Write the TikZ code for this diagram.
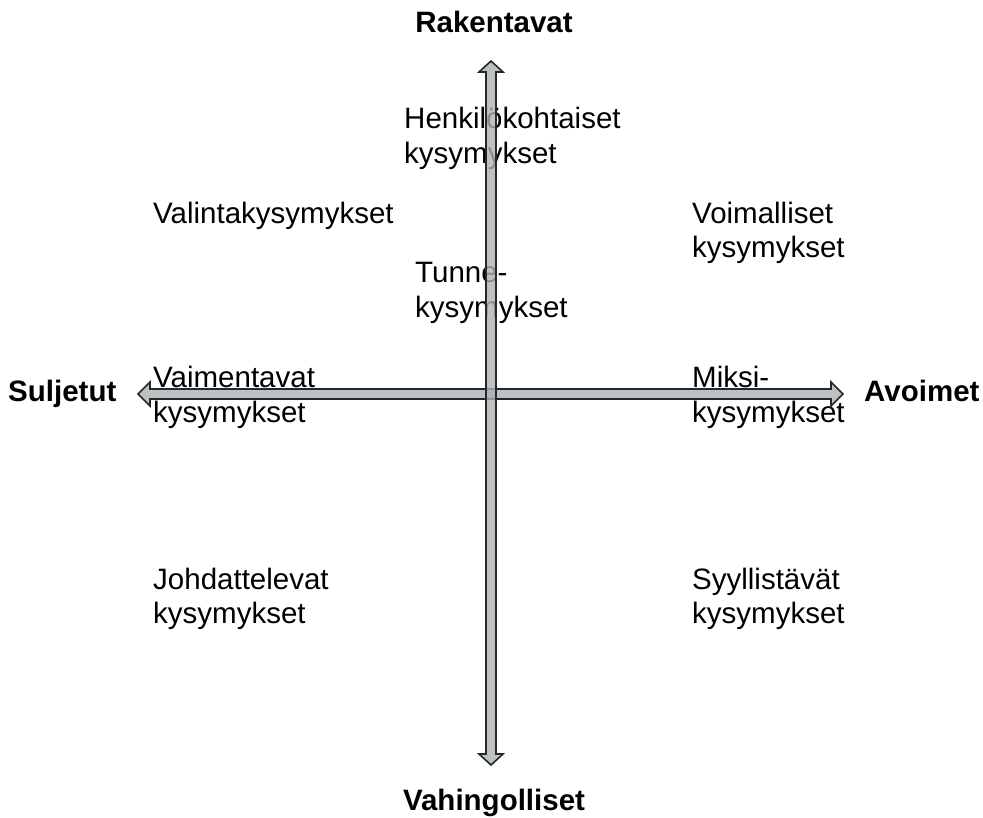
\documentclass[tikz,border=0pt]{standalone}
\usepackage{fontspec}
\setmainfont{Liberation Sans}
\definecolor{arrowfill}{HTML}{B0B0B0}
\definecolor{arrowline}{HTML}{1E2A30}
\begin{document}
\begin{tikzpicture}[x=1pt,y=-1pt,
  lbl/.style={anchor=base west,inner sep=0pt,font=\fontsize{29.5}{34}\selectfont},
  axis/.style={anchor=base,inner sep=0pt,font=\fontsize{29.5}{34}\selectfont\bfseries},
  blockarrow/.style={fill=arrowfill,fill opacity=0.8,draw=arrowline,line width=1.6pt,line join=miter}]
\useasboundingbox (0,0) rectangle (983,818);
% axis labels
\node[axis] (rak) at (494,33) {Rakentavat};
\node[axis] (vah) at (494,810) {Vahingolliset};
\node[axis,anchor=base west] (sul) at (8,401) {Suljetut};
\node[axis,anchor=base west] (avo) at (864,401) {Avoimet};
% quadrant texts
\node[lbl] (hen1) at (404,129) {Henkilökohtaiset};
\node[lbl] (hen2) at (404,164) {kysymykset};
\node[lbl] (val) at (153,224) {Valintakysymykset};
\node[lbl] (voi1) at (692,224) {Voimalliset};
\node[lbl] (voi2) at (692,258) {kysymykset};
\node[lbl] (tun1) at (415,283) {Tunne-};
\node[lbl] (tun2) at (415,318) {kysymykset};
\node[lbl] (vai1) at (153,388) {Vaimentavat};
\node[lbl] (vai2) at (153,422) {kysymykset};
\node[lbl] (mik1) at (692,388) {Miksi-};
\node[lbl] (mik2) at (692,422) {kysymykset};
\node[lbl] (joh1) at (153,589) {Johdattelevat};
\node[lbl] (joh2) at (153,623) {kysymykset};
\node[lbl] (syy1) at (692,589) {Syyllistävät};
\node[lbl] (syy2) at (692,623) {kysymykset};
% block arrows
\draw[blockarrow] (138,394) -- (150,382) -- (150,389) -- (831,389) -- (831,382) -- (843,394)
  -- (831,406) -- (831,399) -- (150,399) -- (150,406) -- cycle;
\draw[blockarrow] (491,61) -- (503,72) -- (496,72) -- (496,754) -- (503,754) -- (491,765)
  -- (479,754) -- (486,754) -- (486,72) -- (479,72) -- cycle;
\end{tikzpicture}
\end{document}
